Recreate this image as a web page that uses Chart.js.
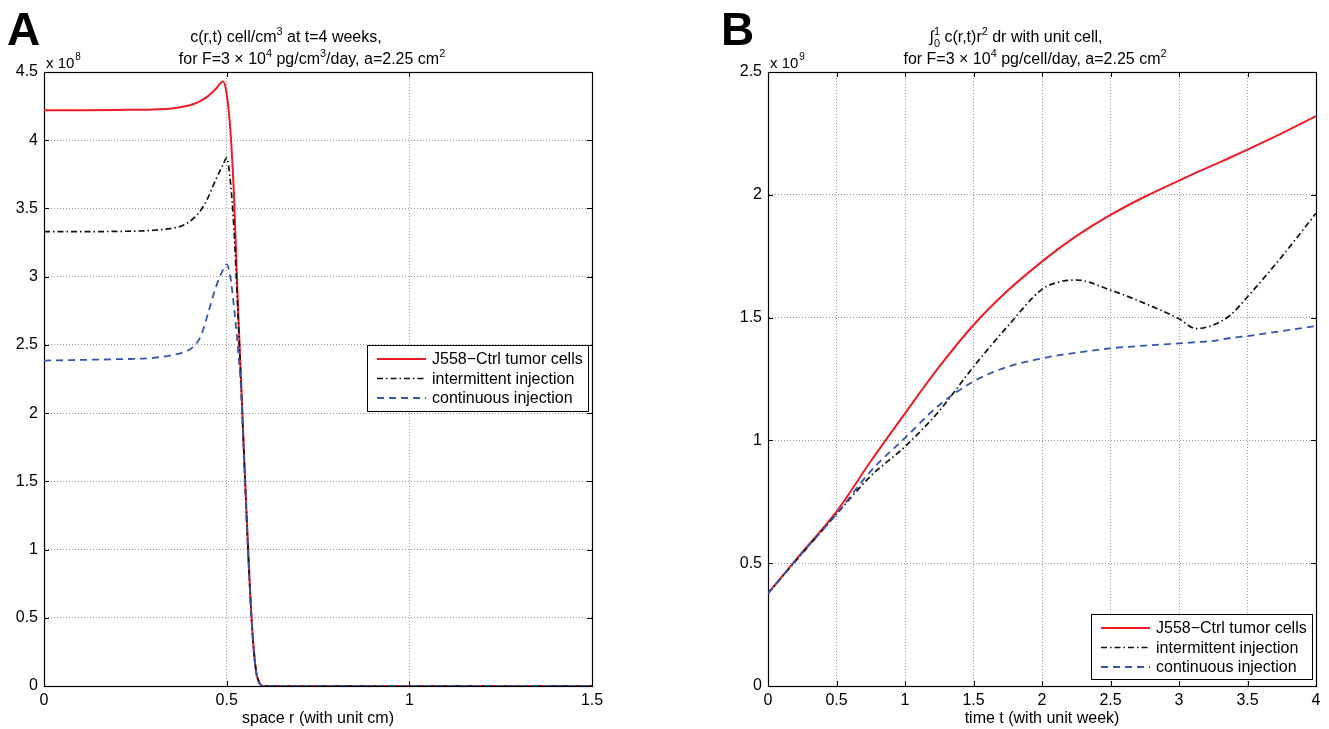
<!DOCTYPE html>
<html>
<head>
<meta charset="utf-8">
<script src="https://cdn.jsdelivr.net/npm/chart.js@4.4.1/dist/chart.umd.min.js"></script>
<style>
  body { margin: 0; background: #fff; width: 1329px; height: 729px; overflow: hidden; position: relative; }
  #chartA { position: absolute; left: 0; top: 0; }
  #chartB { position: absolute; left: 700px; top: 0; }
</style>
</head>
<body>
<canvas id="chartA" width="620" height="729"></canvas>
<canvas id="chartB" width="629" height="729"></canvas>
<script>
// Panel A: c(r,t) at t = 4 weeks, values in units of 1e8 cell/cm^3
var spaceR     = [0, 0.1, 0.2, 0.3, 0.35, 0.38, 0.41, 0.43, 0.45, 0.47, 0.49, 0.5, 0.51, 0.52, 0.53, 0.54, 0.55, 0.56, 0.57, 0.58, 0.59, 0.6, 0.8, 1.0, 1.2, 1.5];
var ctrlA      = [4.22, 4.22, 4.222, 4.226, 4.232, 4.245, 4.265, 4.29, 4.325, 4.375, 4.43, 4.34, 4.08, 3.6, 2.85, 2.2, 1.55, 0.93, 0.42, 0.12, 0.02, 0, 0, 0, 0, 0];
var intermA    = [3.33, 3.33, 3.332, 3.34, 3.355, 3.375, 3.43, 3.49, 3.585, 3.71, 3.82, 3.87, 3.7, 3.35, 2.78, 2.17, 1.52, 0.91, 0.41, 0.12, 0.02, 0, 0, 0, 0, 0];
var contA      = [2.385, 2.39, 2.395, 2.405, 2.425, 2.445, 2.49, 2.57, 2.74, 2.92, 3.05, 3.09, 3.0, 2.78, 2.5, 2.15, 1.5, 0.9, 0.4, 0.11, 0.02, 0, 0, 0, 0, 0];

// Panel B: integral of c(r,t) r^2 dr, values in units of 1e9
var timeT      = [0, 0.25, 0.5, 0.75, 1, 1.25, 1.5, 1.75, 2, 2.125, 2.25, 2.5, 2.75, 3, 3.125, 3.25, 3.375, 3.5, 3.75, 4];
var ctrlB      = [0.377, 0.545, 0.71, 0.915, 1.11, 1.3, 1.47, 1.61, 1.728, 1.782, 1.832, 1.918, 1.992, 2.058, 2.09, 2.121, 2.152, 2.184, 2.25, 2.32];
var intermB    = [0.377, 0.54, 0.7, 0.855, 0.975, 1.12, 1.3, 1.465, 1.615, 1.645, 1.653, 1.612, 1.558, 1.495, 1.455, 1.47, 1.51, 1.585, 1.748, 1.925];
var contB      = [0.377, 0.542, 0.7, 0.875, 1.01, 1.144, 1.24, 1.3, 1.334, 1.347, 1.357, 1.375, 1.386, 1.395, 1.4, 1.405, 1.417, 1.425, 1.445, 1.466];

var seriesNames = ['J558\u2212Ctrl tumor cells', 'intermittent injection', 'continuous injection'];
var xTicksA = [0, 0.5, 1, 1.5];
var xTicksB = [0, 0.5, 1, 1.5, 2, 2.5, 3, 3.5, 4];

var FONT = '"Liberation Sans", Arial, sans-serif';
Chart.defaults.font.family = FONT;
Chart.defaults.font.size = 16;
Chart.defaults.color = '#000';

function pts(xs, ys) {
  return xs.map(function(x, i) { return { x: x, y: ys[i] }; });
}

function fmt(v) {
  return String(Math.round(v * 100) / 100);
}

// blue is drawn on top, as in the original figure
function makeDatasets(xs, red, black, blue) {
  return [
    { label: seriesNames[0], data: pts(xs, red), borderColor: '#ee1c25', borderWidth: 2, borderDash: [], order: 3 },
    { label: seriesNames[1], data: pts(xs, black), borderColor: '#111111', borderWidth: 1.7, borderDash: [6, 3, 1.5, 3], order: 2 },
    { label: seriesNames[2], data: pts(xs, blue), borderColor: '#3656ac', borderWidth: 1.8, borderDash: [7, 5], order: 1 }
  ].map(function(d) {
    d.pointRadius = 0;
    d.fill = false;
    d.cubicInterpolationMode = 'monotone';
    return d;
  });
}

// draw text with superscripts / subscripts, centred at cx
function drawRich(ctx, parts, cx, cy, size) {
  var small = size * 0.68;
  var total = 0;
  parts.forEach(function(p) {
    if (p.sup !== undefined || p.sub !== undefined) {
      ctx.font = small + 'px ' + FONT;
      p.w = Math.max(ctx.measureText(p.sup || '').width, ctx.measureText(p.sub || '').width);
    } else {
      ctx.font = size + 'px ' + FONT;
      p.w = ctx.measureText(p.t).width;
    }
    total += p.w;
  });
  var x = cx - total / 2;
  var base = cy + size * 0.36;
  ctx.textAlign = 'left';
  ctx.textBaseline = 'alphabetic';
  parts.forEach(function(p) {
    if (p.sup !== undefined || p.sub !== undefined) {
      ctx.font = small + 'px ' + FONT;
      if (p.sup) ctx.fillText(p.sup, x, base - size * 0.45);
      if (p.sub) ctx.fillText(p.sub, x, base + size * 0.3);
    } else {
      ctx.font = size + 'px ' + FONT;
      ctx.fillText(p.t, x, base);
    }
    x += p.w;
  });
}

// box round the axes with MATLAB style inward ticks
var framePlugin = {
  id: 'frame',
  beforeDatasetsDraw: function(chart) {
    var ctx = chart.ctx, a = chart.chartArea;
    var xs = chart.scales.x, ys = chart.scales.y;
    ctx.save();
    ctx.strokeStyle = '#000';
    ctx.lineWidth = 1.2;
    ctx.strokeRect(Math.round(a.left) + 0.5, Math.round(a.top) + 0.5, Math.round(a.right - a.left), Math.round(a.bottom - a.top));
    ctx.lineWidth = 1;
    ctx.beginPath();
    xs.ticks.forEach(function(t) {
      var px = Math.round(xs.getPixelForValue(t.value)) + 0.5;
      ctx.moveTo(px, a.bottom); ctx.lineTo(px, a.bottom - 5);
      ctx.moveTo(px, a.top); ctx.lineTo(px, a.top + 5);
    });
    ys.ticks.forEach(function(t) {
      var py = Math.round(ys.getPixelForValue(t.value)) + 0.5;
      ctx.moveTo(a.left, py); ctx.lineTo(a.left + 5, py);
      ctx.moveTo(a.right, py); ctx.lineTo(a.right - 5, py);
    });
    ctx.stroke();
    ctx.restore();
  }
};

// legend box inside the plot and the titles
var decorPlugin = {
  id: 'decor',
  afterDraw: function(chart, args, opts) {
    var ctx = chart.ctx;
    ctx.save();
    ctx.fillStyle = '#000';

    // panel letter
    ctx.font = 'bold 46px ' + FONT;
    ctx.textAlign = 'left';
    ctx.textBaseline = 'alphabetic';
    ctx.fillText(opts.letter, opts.letterX, 45);

    // title lines
    opts.titles.forEach(function(tl) {
      drawRich(ctx, tl.parts, tl.cx, tl.cy, 16);
    });

    // exponent above y axis
    ctx.font = '15px ' + FONT;
    ctx.textAlign = 'left';
    ctx.fillText('x 10', opts.expoX, 68);
    var w = ctx.measureText('x 10').width;
    ctx.font = '10px ' + FONT;
    ctx.fillText(opts.expo, opts.expoX + w + 1, 60);

    // legend
    var L = opts.legend;
    ctx.fillStyle = '#fff';
    ctx.fillRect(L.left, L.top, L.width, L.height);
    ctx.strokeStyle = '#000';
    ctx.lineWidth = 1;
    ctx.strokeRect(L.left + 0.5, L.top + 0.5, L.width, L.height);
    chart.data.datasets.forEach(function(ds, i) {
      var y = L.top + 14 + i * 19.5;
      ctx.save();
      ctx.strokeStyle = ds.borderColor;
      ctx.lineWidth = ds.borderWidth;
      ctx.setLineDash(ds.borderDash);
      ctx.beginPath();
      ctx.moveTo(L.left + 10, y);
      ctx.lineTo(L.left + 59, y);
      ctx.stroke();
      ctx.restore();
      ctx.fillStyle = '#000';
      ctx.font = '16px ' + FONT;
      ctx.textAlign = 'left';
      ctx.textBaseline = 'middle';
      ctx.fillText(ds.label, L.left + 65, y + 1);
    });
    ctx.restore();
  }
};

function makeChart(id, xs, red, black, blue, xMax, yMax, xTitle, yWidth, padRight, xTickVals, decor) {
  var ctx = document.getElementById(id).getContext('2d');
  return new Chart(ctx, {
    type: 'line',
    data: { datasets: makeDatasets(xs, red, black, blue) },
    plugins: [framePlugin, decorPlugin],
    options: {
      responsive: false,
      animation: false,
      events: [],
      layout: { padding: { top: 72, right: padRight, left: 0, bottom: 0 } },
      plugins: {
        legend: { display: false },
        tooltip: { enabled: false },
        decor: decor
      },
      scales: {
        x: {
          type: 'linear',
          min: 0,
          max: xMax,
          afterBuildTicks: function(scale) {
            scale.ticks = xTickVals.map(function(v) { return { value: v }; });
          },
          ticks: { autoSkip: false, maxRotation: 0, padding: 5, callback: fmt },
          grid: { color: '#9a9a9a', lineWidth: 1, drawTicks: false },
          border: { display: true, color: '#000', width: 1, dash: [1, 2] },
          title: { display: true, text: xTitle, font: { size: 16 }, padding: { top: 0, bottom: 1 } },
          afterFit: function(scale) { scale.height = 43; }
        },
        y: {
          type: 'linear',
          min: 0,
          max: yMax,
          ticks: { stepSize: 0.5, padding: 6, callback: fmt },
          grid: { color: '#9a9a9a', lineWidth: 1, drawTicks: false },
          border: { display: true, color: '#000', width: 1, dash: [1, 2] },
          afterFit: function(scale) { scale.width = yWidth; }
        }
      }
    }
  });
}

makeChart('chartA', spaceR, ctrlA, intermA, contA, 1.5, 4.5, 'space r (with unit cm)', 44, 28, xTicksA, {
  letter: 'A',
  letterX: 7,
  expo: '8',
  expoX: 46,
  titles: [
    { cx: 286, cy: 36, parts: [{ t: 'c(r,t) cell/cm' }, { sup: '3' }, { t: ' at t=4 weeks,' }] },
    { cx: 312, cy: 58, parts: [{ t: 'for F=3 \u00d7 10' }, { sup: '4' }, { t: ' pg/cm' }, { sup: '3' }, { t: '/day, a=2.25 cm' }, { sup: '2' }] }
  ],
  legend: { left: 367, top: 345, width: 221, height: 66 }
});

makeChart('chartB', timeT, ctrlB, intermB, contB, 4, 2.5, 'time t (with unit week)', 68, 13, xTicksB, {
  letter: 'B',
  letterX: 21,
  expo: '9',
  expoX: 70,
  titles: [
    { cx: 316, cy: 36, parts: [{ t: '\u222b' }, { sup: '1', sub: '0' }, { t: ' c(r,t)r' }, { sup: '2' }, { t: ' dr with unit cell,' }] },
    { cx: 335, cy: 58, parts: [{ t: 'for F=3 \u00d7 10' }, { sup: '4' }, { t: ' pg/cell/day, a=2.25 cm' }, { sup: '2' }] }
  ],
  legend: { left: 391, top: 614, width: 221, height: 65 }
});
</script>
</body>
</html>
